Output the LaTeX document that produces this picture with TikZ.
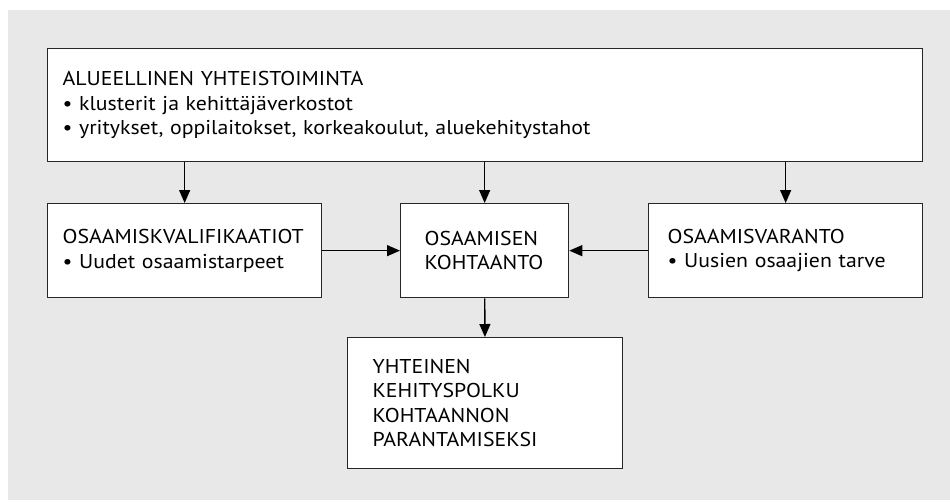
\documentclass[tikz,border=0pt]{standalone}
\usepackage{fontspec}
\setmainfont{PT Sans}[FakeStretch=1.09]
\usetikzlibrary{arrows.meta}

\tikzset{
	box/.style={draw=black!85, fill=white, line width=1.3pt, align=left,
		anchor=north west, inner ysep=0pt},
	conn/.style={line width=1.3pt, -{Triangle[length=13pt,width=11pt]}}
}

\begin{document}
\begin{tikzpicture}[x=1pt,y=-1pt,font=\fontsize{20}{24.5}\selectfont]
	\useasboundingbox (0,0) rectangle (950,501);
	\fill[black!9] (8,10) rectangle (950,500);
	% boxes
	\node[box, inner xsep=15pt, text width=845pt, minimum height=113pt] (alue) at (47,48)
		{ALUEELLINEN YHTEISTOIMINTA\\
		\textbullet\ klusterit ja kehittäjäverkostot\\
		\textbullet\ yritykset, oppilaitokset, korkeakoulut, aluekehitystahot};
	\node[box, inner xsep=15pt, text width=244pt, minimum height=94pt] (kval) at (47,203)
		{OSAAMISKVALIFIKAATIOT\\ \textbullet\ Uudet osaamistarpeet};
	\node[box, inner xsep=24pt, text width=120pt, minimum height=94pt] (koht) at (400,203)
		{OSAAMISEN\\ KOHTAANTO};
	\node[box, inner xsep=19pt, text width=236pt, minimum height=94pt] (vara) at (648,203)
		{OSAAMISVARANTO\\ \textbullet\ Uusien osaajien tarve};
	\node[box, inner xsep=25pt, text width=225pt, minimum height=131pt] (polku) at (347,337)
		{YHTEINEN\\ KEHITYSPOLKU\\ KOHTAANNON\\ PARANTAMISEKSI};
	% arrows
	\draw[conn] (alue.south -| kval.north) -- (kval.north);
	\draw[conn] (alue.south -| koht.north) -- (koht.north);
	\draw[conn] (alue.south -| vara.north) -- (vara.north);
	\draw[conn] (kval) -- (koht);
	\draw[conn] (vara) -- (koht);
	\draw[conn] (koht) -- (polku);
\end{tikzpicture}
\end{document}
